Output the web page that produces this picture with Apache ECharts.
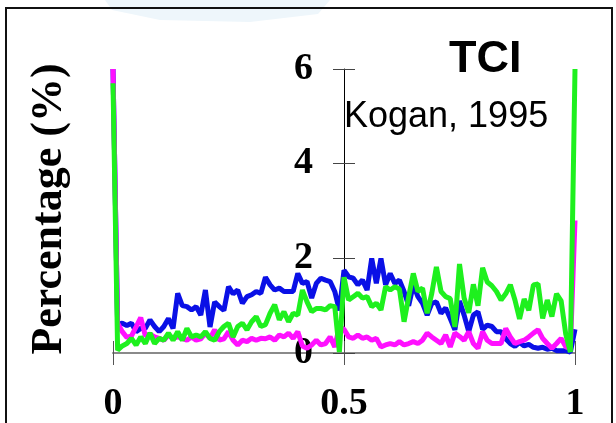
<!DOCTYPE html>
<html>
<head>
<meta charset="utf-8">
<script src="https://cdn.jsdelivr.net/npm/echarts@6/dist/echarts.min.js"></script>
<style>
  html, body { margin: 0; padding: 0; background: #fff; }
  #tciChart { width: 616px; height: 423px; }
</style>
</head>
<body>
<div id="tciChart"></div>
<script>
// values, 101 bins from 0 to 1
var blueData = [6, 0.6, 0.63, 0.58, 0.63, 0.45, 0.52, 0.52, 0.7, 0.56,
  0.45, 0.56, 0.73, 0.52, 1.26, 1.0, 0.98, 0.91, 0.98, 0.8,
  1.33, 0.55, 1.08, 0.98, 0.9, 1.4, 1.25, 1.33, 1.05, 1.19,
  1.23, 1.3, 1.26, 1.6, 1.44, 1.33, 1.37, 1.3, 1.3, 1.3,
  1.68, 1.47, 1.51, 1.16, 1.47, 1.58, 1.54, 1.51, 1.3, 0.9,
  1.75, 1.61, 1.58, 1.44, 1.54, 1.33, 2.0, 1.47, 2.0, 1.44,
  1.68, 1.47, 1.54, 1.3, 1.0, 1.44, 1.19, 1.05, 0.8, 1.05,
  1.08, 0.84, 0.95, 0.73, 0.49, 1.1, 0.8, 0.45, 0.8, 0.87,
  0.5, 0.59, 0.56, 0.45, 0.45, 0.3, 0.2, 0.14, 0.22, 0.15,
  0.18, 0.12, 0.1, 0.12, 0.08, 0.1, 0.05, 0.05, 0.05, 0.02, 0.5];
var greenData = [5.7, 0.06, 0.15, 0.2, 0.31, 0.17, 0.34, 0.2, 0.42, 0.2,
  0.31, 0.27, 0.42, 0.27, 0.45, 0.27, 0.52, 0.34, 0.38, 0.34,
  0.45, 0.31, 0.27, 0.45, 0.56, 0.63, 0.34, 0.56, 0.63, 0.49,
  0.66, 0.77, 0.56, 0.6, 0.84, 1.02, 0.7, 0.87, 0.66, 0.84,
  0.8, 1.33, 1.08, 0.87, 0.94, 0.94, 0.91, 1.0, 0.98, 0.02,
  1.6, 1.12, 1.19, 1.26, 1.16, 1.19, 0.98, 1.05, 0.91, 1.4,
  1.33, 1.4, 1.35, 0.66, 1.19, 1.68, 1.3, 1.37, 0.84, 1.26,
  1.82, 1.3, 1.19, 1.15, 0.55, 1.88, 1.16, 0.85, 1.45, 1.0,
  1.8, 1.5, 1.42, 1.3, 1.12, 1.25, 1.44, 1.12, 0.72, 1.14,
  0.9, 1.44, 1.46, 0.73, 1.12, 0.77, 1.25, 1.1, 0.4, 0.02, 6];
var magentaData = [6, 0.63, 0.45, 0.33, 0.36, 0.55, 0.75, 0.36, 0.4, 0.34,
  0.31, 0.27, 0.38, 0.31, 0.34, 0.31, 0.27, 0.34, 0.27, 0.3,
  0.42, 0.31, 0.49, 0.27, 0.3, 0.45, 0.27, 0.17, 0.27, 0.24,
  0.31, 0.27, 0.31, 0.3, 0.34, 0.27, 0.38, 0.34, 0.42, 0.31,
  0.45, 0.15, 0.1, 0.17, 0.27, 0.17, 0.2, 0.34, 0.13, 0.56,
  0.5, 0.34, 0.31, 0.38, 0.31, 0.34, 0.27, 0.31, 0.13, 0.17,
  0.2, 0.17, 0.24, 0.17, 0.2, 0.24, 0.2, 0.27, 0.42, 0.34,
  0.27, 0.2, 0.38, 0.13, 0.42, 0.35, 0.27, 0.45, 0.2, 0.1,
  0.45, 0.27, 0.2, 0.2, 0.2, 0.52, 0.34, 0.2, 0.24, 0.27,
  0.34, 0.42, 0.49, 0.31, 0.2, 0.1, 0.2, 0.31, 0.13, 0.1, 2.8];
var xTicks = ['0', '0.5', '1'];
var yTicks = ['0', '2', '4', '6'];

var chart = echarts.init(document.getElementById('tciChart'));

function toPoints(arr) {
  return arr.map(function(v, i) { return [i / (arr.length - 1), v]; });
}

var labelFont = {
  fontFamily: '"Liberation Serif", "Times New Roman", serif',
  fontWeight: 'bold',
  fontSize: 38,
  color: '#000'
};

var option = {
  animation: false,
  backgroundColor: '#fff',
  title: [{
    text: 'TCI',
    left: 449,
    top: 37,
    padding: 0,
    textStyle: { fontFamily: '"Liberation Sans", Arial, sans-serif', fontWeight: 'bold', fontSize: 45, color: '#000' }
  }, {
    text: 'Kogan, 1995',
    left: 344,
    top: 99,
    padding: 0,
    textStyle: { fontFamily: '"Liberation Sans", Arial, sans-serif', fontWeight: 'normal', fontSize: 36, color: '#000' }
  }],
  graphic: [{
    // faint watermark at the top edge
    type: 'polygon',
    shape: { points: [[105, 0], [330, 0], [318, 14], [250, 22], [160, 20], [112, 10]] },
    style: { fill: '#eef6fb' },
    z: -2
  }, {
    type: 'rect',
    shape: { x: 6, y: 8, width: 606, height: 440 },
    style: { fill: 'none', stroke: '#111', lineWidth: 2 },
    z: -1
  }, {
    type: 'text',
    x: 50,
    y: 209,
    rotation: Math.PI / 2,
    style: {
      text: 'Percentage (%)',
      font: 'bold 44px "Liberation Serif", "Times New Roman", serif',
      fill: '#000',
      align: 'center',
      verticalAlign: 'middle'
    }
  }],
  grid: { left: 113, right: 41, top: 69, bottom: 70, outerBoundsMode: 'none' },
  xAxis: [{
    type: 'value', min: 0, max: 1, interval: 0.5, position: 'bottom',
    axisLine: { lineStyle: { color: '#8a8a8a', width: 2 } },
    axisTick: { show: true, length: 12, lineStyle: { color: '#555', width: 1 } },
    splitLine: { show: false },
    axisLabel: Object.assign({ margin: 32, formatter: function(v) { return xTicks[Math.round(v * 2)]; } }, labelFont)
  }, {
    type: 'value', min: 0, max: 1, interval: 0.5, position: 'bottom',
    axisLine: { show: false },
    axisTick: { show: true, inside: true, length: 12, lineStyle: { color: '#555', width: 1 } },
    splitLine: { show: false },
    axisLabel: { show: false }
  }],
  yAxis: [{
    type: 'value', min: 0, max: 6, interval: 2, position: 'left', offset: -231,
    axisLine: { show: true, lineStyle: { color: '#000', width: 1 } },
    axisTick: { show: true, length: 11, lineStyle: { color: '#444', width: 1 } },
    splitLine: { show: false },
    axisLabel: Object.assign({ margin: 31, formatter: function(v) { return yTicks[Math.round(v / 2)]; } }, labelFont)
  }, {
    type: 'value', min: 0, max: 6, interval: 2, position: 'left', offset: -231,
    axisLine: { show: false },
    axisTick: { show: true, inside: true, length: 11, lineStyle: { color: '#444', width: 1 } },
    splitLine: { show: false },
    axisLabel: { show: false }
  }],
  series: [{
    name: 'blue', type: 'line', data: toPoints(blueData),
    showSymbol: false, symbol: 'none',
    lineStyle: { color: '#0a10e6', width: 5 }
  }, {
    name: 'magenta', type: 'line', data: toPoints(magentaData),
    showSymbol: false, symbol: 'none',
    lineStyle: { color: '#ff10ff', width: 5 }
  }, {
    name: 'green', type: 'line', data: toPoints(greenData),
    showSymbol: false, symbol: 'none',
    lineStyle: { color: '#1ef01e', width: 5 }
  }]
};
chart.setOption(option);
</script>
</body>
</html>
